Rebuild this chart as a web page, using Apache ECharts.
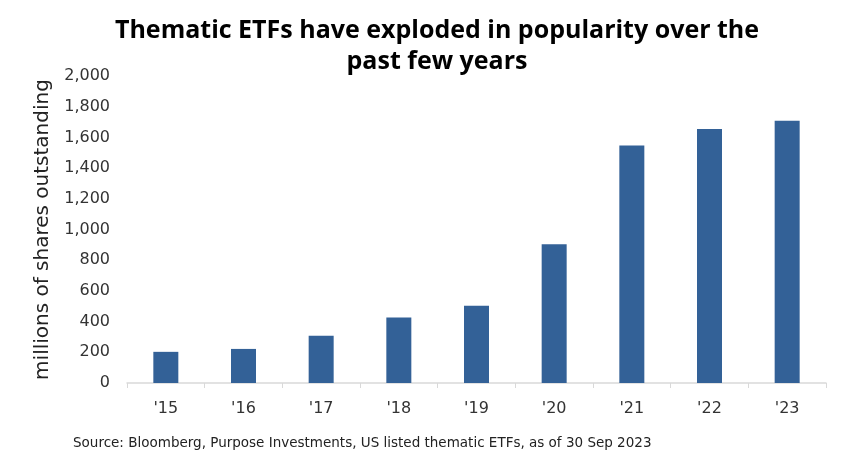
<!DOCTYPE html>
<html><head><meta charset="utf-8">
<script src="https://cdn.jsdelivr.net/npm/echarts@6/dist/echarts.min.js"></script>
<style>html,body{margin:0;padding:0;background:#fff}#c{width:847px;height:465px}</style>
</head><body><div id="c"></div>
<script>
const categories = ["'15","'16","'17","'18","'19","'20","'21","'22","'23"];
const sharesOutstanding = [203, 222, 308, 427, 503, 904, 1548, 1654, 1709];
const titleLines = ["Thematic ETFs have exploded in popularity over the", "past few years"];
const yAxisName = "millions of shares outstanding";
const sourceText = "Source: Bloomberg, Purpose Investments, US listed thematic ETFs, as of 30 Sep 2023";

const chart = echarts.init(document.getElementById('c'));
chart.setOption({
  animation: false,
  title: [{
    text: titleLines.join('\n'),
    left: 432, top: 10, textAlign: 'center',
    textStyle: {fontFamily: 'Open Sans', fontWeight: 'bold', fontSize: 25, lineHeight: 31, color: '#000'}
  }, {
    text: sourceText,
    left: 68, top: 431,
    textStyle: {fontFamily: 'DejaVu Sans', fontWeight: 'normal', fontSize: 13.5, color: '#222'}
  }],
  grid: {left: 127, right: 21, top: 76, bottom: 82},
  xAxis: {
    type: 'category', data: categories,
    axisLine: {lineStyle: {color: '#d9d9d9', width: 1.5}},
    axisTick: {show: true, length: 5, lineStyle: {color: '#d9d9d9'}},
    axisLabel: {fontFamily: 'DejaVu Sans', fontSize: 16, color: '#333', margin: 18}
  },
  yAxis: {
    type: 'value', min: 0, max: 2000, interval: 200,
    name: yAxisName, nameLocation: 'middle', nameGap: 74,
    nameTextStyle: {fontFamily: 'DejaVu Sans', fontSize: 20, color: '#222'},
    axisLine: {show: false}, axisTick: {show: false},
    splitLine: {show: false},
    axisLabel: {fontFamily: 'DejaVu Sans', fontSize: 16, color: '#333', margin: 17,
      formatter: v => v.toLocaleString('en-US')}
  },
  series: [{
    type: 'bar', data: sharesOutstanding, barWidth: 25,
    itemStyle: {color: '#336197'}
  }]
});
</script></body></html>
